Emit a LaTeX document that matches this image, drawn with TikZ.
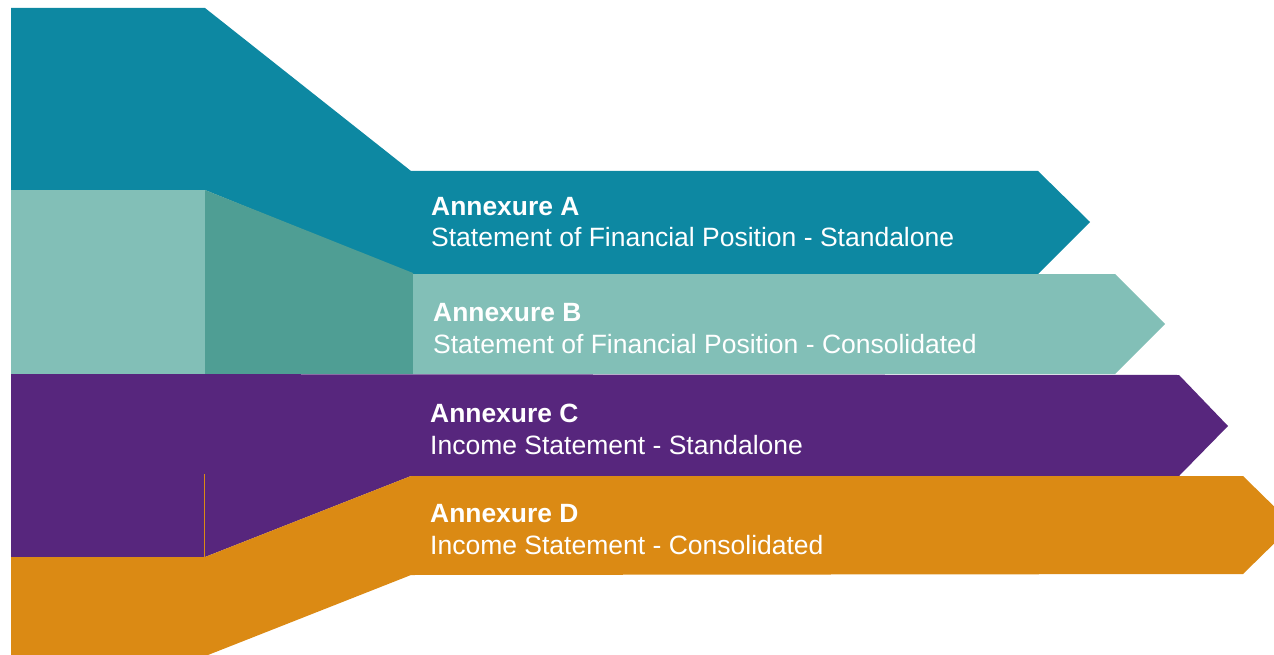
\documentclass[tikz,border=0pt]{standalone}
\usepackage{fontspec}
\setmainfont{Liberation Sans}
\definecolor{cteal}{HTML}{0D88A2}
\definecolor{clight}{HTML}{82BFB7}
\definecolor{cdark}{HTML}{4F9E94}
\definecolor{cpurple}{HTML}{57267D}
\definecolor{corange}{HTML}{DB8A14}
\tikzset{
  titletext/.style={anchor=base west, inner sep=0pt, text=white, font=\fontsize{26.4}{30}\selectfont\bfseries},
  subtext/.style={anchor=base west, inner sep=0pt, text=white, font=\fontsize{26.5}{30}\selectfont},
}
\begin{document}
\begin{tikzpicture}[x=1pt,y=-1pt]
\useasboundingbox (0,0) rectangle (1274,655);
\clip (0,0) rectangle (1274,655);
% Annexure A
\fill[cteal] (11,8) -- (205,8) -- (411,171) -- (1038,171) -- (1090,222) -- (1038,274) -- (411,274) -- (205,190) -- (11,190) -- cycle;
% Annexure B
\fill[clight] (11,190) rectangle (205,374);
\fill[cdark] (205,190) -- (413,273) -- (413,374) -- (205,374) -- cycle;
\fill[clight] (413,274) -- (1115,274) -- (1165,324) -- (1115,374) -- (413,374) -- cycle;
% Annexure C
\fill[cpurple] (11,374) -- (1179,375) -- (1228,426) -- (1179,476) -- (411,476) -- (205,557) -- (11,557) -- cycle;
\draw[corange, line width=0.6pt] (204.5,474) -- (204.5,557);
% Annexure D
\fill[corange] (11,557) -- (205,557) -- (411,476) -- (1243,476) -- (1293,525) -- (1243,574) -- (411,575) -- (208,655) -- (11,655) -- cycle;
% texts
\node[titletext] (ta) at (431,215) {Annexure A};
\node[subtext] (sa) at (431,246) {Statement of Financial Position - Standalone};
\node[titletext] (tb) at (433,321) {Annexure B};
\node[subtext] (sb) at (433,353) {Statement of Financial Position - Consolidated};
\node[titletext] (tc) at (430,422) {Annexure C};
\node[subtext] (sc) at (430,454) {Income Statement - Standalone};
\node[titletext] (td) at (430,522) {Annexure D};
\node[subtext] (sd) at (430,554) {Income Statement - Consolidated};
\end{tikzpicture}
\end{document}
